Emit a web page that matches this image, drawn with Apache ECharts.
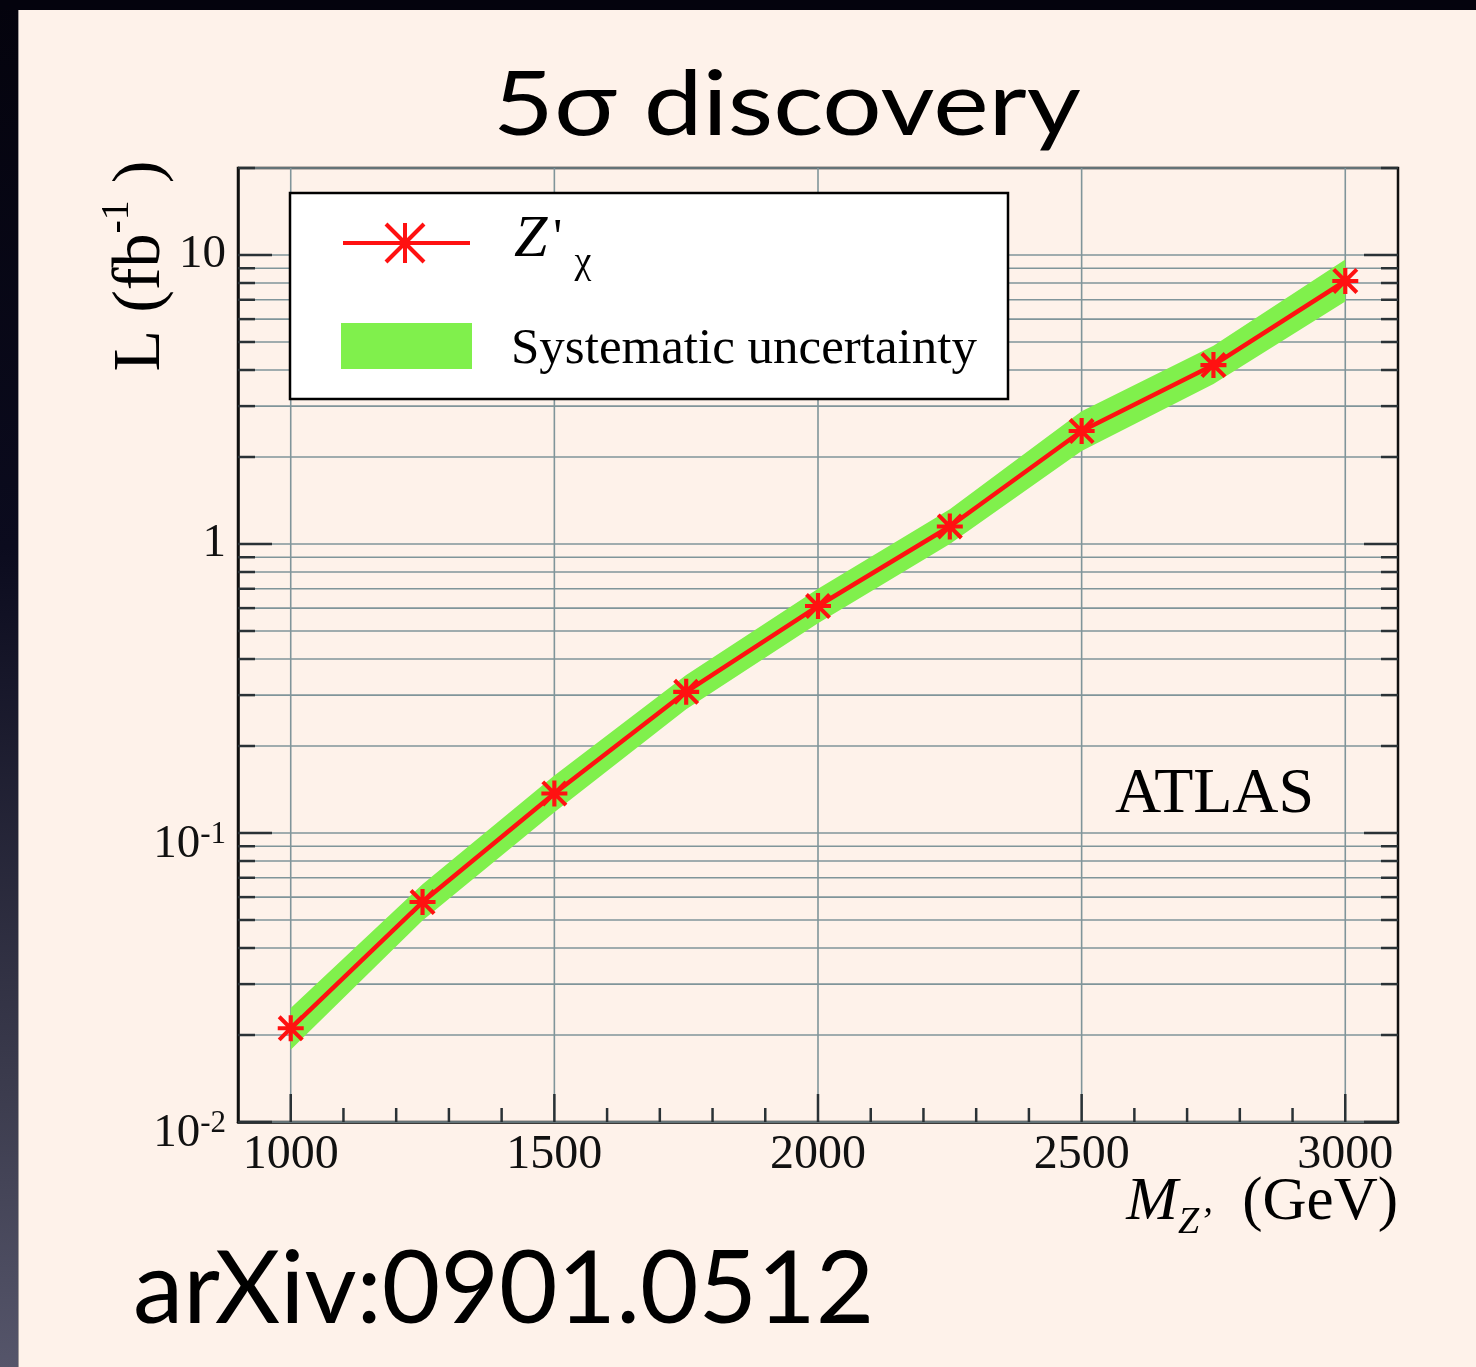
<!DOCTYPE html>
<html>
<head>
<meta charset="utf-8">
<script src="https://cdn.jsdelivr.net/npm/echarts/dist/echarts.min.js"></script>
<style>
  html, body { margin: 0; padding: 0; }
  body { width: 1476px; height: 1367px; background: #fef2ea; position: relative; overflow: hidden; }
  #frameLeft { position: absolute; left: 0; top: 0; width: 18px; height: 1367px;
    background: linear-gradient(#04030d 0%, #0b0b1e 40%, #3c3c4e 80%, #55556a 100%); }
  #frameTop { position: absolute; left: 0; top: 0; width: 1476px; height: 10px; background: #04030d; }
  #edge { position: absolute; left: 18px; top: 10px; width: 1px; height: 1357px; background: #a09a9a; }
  #chart { position: absolute; left: 0; top: 0; width: 1476px; height: 1367px; }
</style>
</head>
<body>
<div id="frameLeft"></div>
<div id="frameTop"></div>
<div id="edge"></div>
<div id="chart"></div>
<script>
// ---- data ----
const massGeV   = [1000, 1250, 1500, 1750, 2000, 2250, 2500, 2750, 3000];
const lumi      = [0.0211, 0.0577, 0.137, 0.308, 0.610, 1.15, 2.46, 4.16, 8.13];
const bandHigh  = [0.0248, 0.0665, 0.158, 0.352, 0.700, 1.32, 2.88, 4.85, 9.65];
const bandLow   = [0.0178, 0.0498, 0.118, 0.268, 0.532, 1.00, 2.10, 3.58, 6.90];

// ---- axes / tick labels ----
const xMin = 900, xMax = 3100;
const xMajorTicks = [1000, 1500, 2000, 2500, 3000];
const xMinorStep = 100;
const yMin = 0.01, yMax = 20;
const yDecades = [0.01, 0.1, 1, 10];
const yMinorMultipliers = [2, 3, 4, 5, 6, 7, 8, 9];
const yLabelBase = ['10', '10', '1', '10'];
const yLabelExp  = ['-2', '-1', '', ''];

const titleText = '5\u03c3 discovery';
const refText = 'arXiv:0901.0512';
const seriesName = "Z'";
const bandName = 'Systematic uncertainty';
const expText = 'ATLAS';

// ---- styles ----
const RED = '#ff1111';
const GREEN = '#80f04c';
const GRIDC = '#80959a';
const FRAME = '#111111';
const SERIF = '"Liberation Serif", "Times New Roman", serif';
const SANS = 'Lato, "Open Sans", sans-serif';

const asterisk = 'path://M0 42L100 42L100 58L0 58Z M42 0L58 0L58 100L42 100Z M0 11L11 0L100 89L89 100Z M89 0L100 11L11 100L0 89Z';

// horizontal grid values
const yGridValues = [];
yDecades.forEach(d => {
  [1].concat(yMinorMultipliers).forEach(m => {
    const v = +(d * m).toPrecision(6);
    if (v >= yMin && v <= yMax) yGridValues.push(v);
  });
});
const xMinorTicks = [];
for (let v = xMin + xMinorStep; v < xMax; v += xMinorStep) {
  if (xMajorTicks.indexOf(v) < 0) xMinorTicks.push(v);
}
function isDecade(v) {
  const e = Math.log10(v);
  return Math.abs(e - Math.round(e)) < 1e-6;
}

const chart = echarts.init(document.getElementById('chart'), null, { renderer: 'canvas' });

function renderGrid(params, api) {
  const ch = [];
  const st = { stroke: GRIDC, lineWidth: 1.6 };
  yGridValues.forEach(v => {
    const a = api.coord([xMin, v]), b = api.coord([xMax, v]);
    ch.push({ type: 'line', shape: { x1: a[0], y1: a[1], x2: b[0], y2: b[1] }, style: st });
  });
  xMajorTicks.forEach(v => {
    const a = api.coord([v, yMin]), b = api.coord([v, yMax]);
    ch.push({ type: 'line', shape: { x1: a[0], y1: a[1], x2: b[0], y2: b[1] }, style: st });
  });
  return { type: 'group', children: ch };
}

function renderTicks(params, api) {
  const ch = [];
  const st = { stroke: '#2a3236', lineWidth: 2.5 };
  yGridValues.forEach(v => {
    const len = isDecade(v) ? 34 : 17;
    const a = api.coord([xMin, v]), b = api.coord([xMax, v]);
    ch.push({ type: 'line', shape: { x1: a[0], y1: a[1], x2: a[0] + len, y2: a[1] }, style: st });
    ch.push({ type: 'line', shape: { x1: b[0] - len, y1: b[1], x2: b[0], y2: b[1] }, style: st });
  });
  xMajorTicks.forEach(v => {
    const a = api.coord([v, yMin]);
    ch.push({ type: 'line', shape: { x1: a[0], y1: a[1], x2: a[0], y2: a[1] - 28 }, style: st });
  });
  xMinorTicks.forEach(v => {
    const a = api.coord([v, yMin]);
    ch.push({ type: 'line', shape: { x1: a[0], y1: a[1], x2: a[0], y2: a[1] - 14 }, style: st });
  });
  return { type: 'group', children: ch };
}

function renderBand(params, api) {
  const pts = [];
  massGeV.forEach((m, i) => pts.push(api.coord([m, bandHigh[i]])));
  for (let i = massGeV.length - 1; i >= 0; i--) pts.push(api.coord([massGeV[i], bandLow[i]]));
  return { type: 'polygon', shape: { points: pts }, style: { fill: GREEN } };
}

// legend asterisk as lines
const LX = 405, LY = 243, LR = 20;
const legendStar = [
  [LX - LR, LY, LX + LR, LY],
  [LX, LY - LR, LX, LY + LR],
  [LX - LR * 0.95, LY - LR * 0.95, LX + LR * 0.95, LY + LR * 0.95],
  [LX + LR * 0.95, LY - LR * 0.95, LX - LR * 0.95, LY + LR * 0.95]
].map(s => ({ type: 'line', z: 42, shape: { x1: s[0], y1: s[1], x2: s[2], y2: s[3] }, style: { stroke: RED, lineWidth: 4 } }));

const option = {
  animation: false,
  backgroundColor: 'transparent',
  grid: {
    left: 238, right: 78, top: 168, bottom: 245,
    show: true, borderColor: FRAME, borderWidth: 2.5, backgroundColor: 'transparent',
    containLabel: false, outerBoundsMode: 'none'
  },
  xAxis: {
    type: 'value', min: xMin, max: xMax, interval: xMinorStep,
    axisLine: { show: true, lineStyle: { color: FRAME, width: 2.5 } },
    axisTick: { show: false },
    splitLine: { show: false },
    axisLabel: {
      show: true, margin: 9, color: '#111', fontFamily: SERIF, fontSize: 48,
      showMinLabel: false, showMaxLabel: false,
      formatter: v => (xMajorTicks.indexOf(Math.round(v)) >= 0 ? String(Math.round(v)) : '')
    }
  },
  yAxis: {
    type: 'log', logBase: 10, min: yMin, max: yMax,
    axisLine: { show: true, lineStyle: { color: FRAME, width: 2.5 } },
    axisTick: { show: false },
    splitLine: { show: false },
    axisLabel: {
      show: true, margin: 12, color: '#111', fontFamily: SERIF,
      showMaxLabel: false,
      formatter: v => {
        const e = Math.log10(v), r = Math.round(e);
        if (Math.abs(e - r) > 1e-6) return '';
        const i = yDecades.findIndex(d => Math.abs(Math.log10(d) - r) < 1e-6);
        if (i < 0) return '';
        return yLabelExp[i] ? '{b|' + yLabelBase[i] + '}{s|' + yLabelExp[i] + '}' : '{n|' + yLabelBase[i] + '}';
      },
      rich: {
        n: { fontFamily: SERIF, fontSize: 47, color: '#111' },
        b: { fontFamily: SERIF, fontSize: 47, lineHeight: 44, padding: [24, 0, 0, 0], color: '#111' },
        s: { fontFamily: SERIF, fontSize: 31, lineHeight: 28, padding: [8, 0, 0, 0], verticalAlign: 'top', color: '#111' }
      }
    }
  },
  series: [
    { type: 'custom', name: 'grid', coordinateSystem: 'cartesian2d', renderItem: renderGrid,
      data: [[xMin, 1]], z: 1, silent: true, clip: false },
    { type: 'custom', name: bandName, coordinateSystem: 'cartesian2d', renderItem: renderBand,
      data: [[massGeV[0], lumi[0]]], z: 2, silent: true },
    { type: 'line', name: seriesName, data: massGeV.map((m, i) => [m, lumi[i]]),
      symbol: asterisk, symbolSize: 26, showSymbol: true, z: 3,
      itemStyle: { color: RED, borderWidth: 0 },
      lineStyle: { color: RED, width: 4.5 } },
    { type: 'custom', name: 'ticks', coordinateSystem: 'cartesian2d', renderItem: renderTicks,
      data: [[xMin, 1]], z: 4, silent: true, clip: false }
  ],
  graphic: [
    { type: 'text', x: 787, y: 106, z: 50, scaleX: 1.18,
      style: { text: titleText, font: '400 89px ' + SANS, fill: '#000', align: 'center', verticalAlign: 'middle' } },
    { type: 'text', x: 133, y: 1290, z: 50,
      style: { text: refText, font: '400 101px ' + SANS, fill: '#000', align: 'left', verticalAlign: 'middle' } },
    { type: 'text', x: 131, y: 266, rotation: Math.PI / 2, z: 50,
      style: {
        text: '{a|L (fb}{s|-1}{a| )}', align: 'center', verticalAlign: 'middle',
        rich: {
          a: { fontFamily: SERIF, fontSize: 68, lineHeight: 68, padding: [20, 0, 0, 0], fill: '#000' },
          s: { fontFamily: SERIF, fontSize: 40, lineHeight: 40, verticalAlign: 'top', fill: '#000' }
        }
      } },
    { type: 'text', x: 1398, y: 1203, z: 50,
      style: {
        text: '{m|M}{z|Z\u2019}{g|  (GeV)}', align: 'right', verticalAlign: 'middle',
        rich: {
          m: { fontFamily: SERIF, fontStyle: 'italic', fontSize: 62, lineHeight: 60, fill: '#000' },
          z: { fontFamily: SERIF, fontStyle: 'italic', fontSize: 38, lineHeight: 38, padding: [40, 0, 0, 0], fill: '#000' },
          g: { fontFamily: SERIF, fontSize: 61, lineHeight: 60, fill: '#000' }
        }
      } },
    { type: 'text', x: 1115, y: 795, z: 50,
      style: { text: expText, font: '400 64px ' + SERIF, fill: '#000', align: 'left', verticalAlign: 'middle' } },
    { type: 'rect', x: 290, y: 193, z: 40, shape: { width: 718, height: 206 },
      style: { fill: '#ffffff', stroke: '#000', lineWidth: 2.5 } },
    { type: 'line', z: 41, shape: { x1: 343, y1: 243, x2: 470, y2: 243 }, style: { stroke: RED, lineWidth: 4 } }
  ].concat(legendStar).concat([
    { type: 'text', x: 514, y: 240, z: 42,
      style: {
        text: "{z|Z}{p|'}{c|\u03c7}", align: 'left', verticalAlign: 'middle',
        rich: {
          z: { fontFamily: SERIF, fontStyle: 'italic', fontSize: 60, lineHeight: 58, fill: '#000' },
          p: { fontFamily: SERIF, fontSize: 50, lineHeight: 58, padding: [0, 0, 0, 6], fill: '#000' },
          c: { fontFamily: SERIF, fontSize: 38, lineHeight: 36, padding: [46, 0, 0, 12], fill: '#000' }
        }
      } },
    { type: 'rect', x: 341, y: 323, z: 41, shape: { width: 131, height: 46 }, style: { fill: GREEN } },
    { type: 'text', x: 511, y: 350, z: 42,
      style: { text: bandName, font: '400 51px ' + SERIF, fill: '#000', align: 'left', verticalAlign: 'middle' } }
  ])
};
chart.setOption(option);
</script>
</body>
</html>
